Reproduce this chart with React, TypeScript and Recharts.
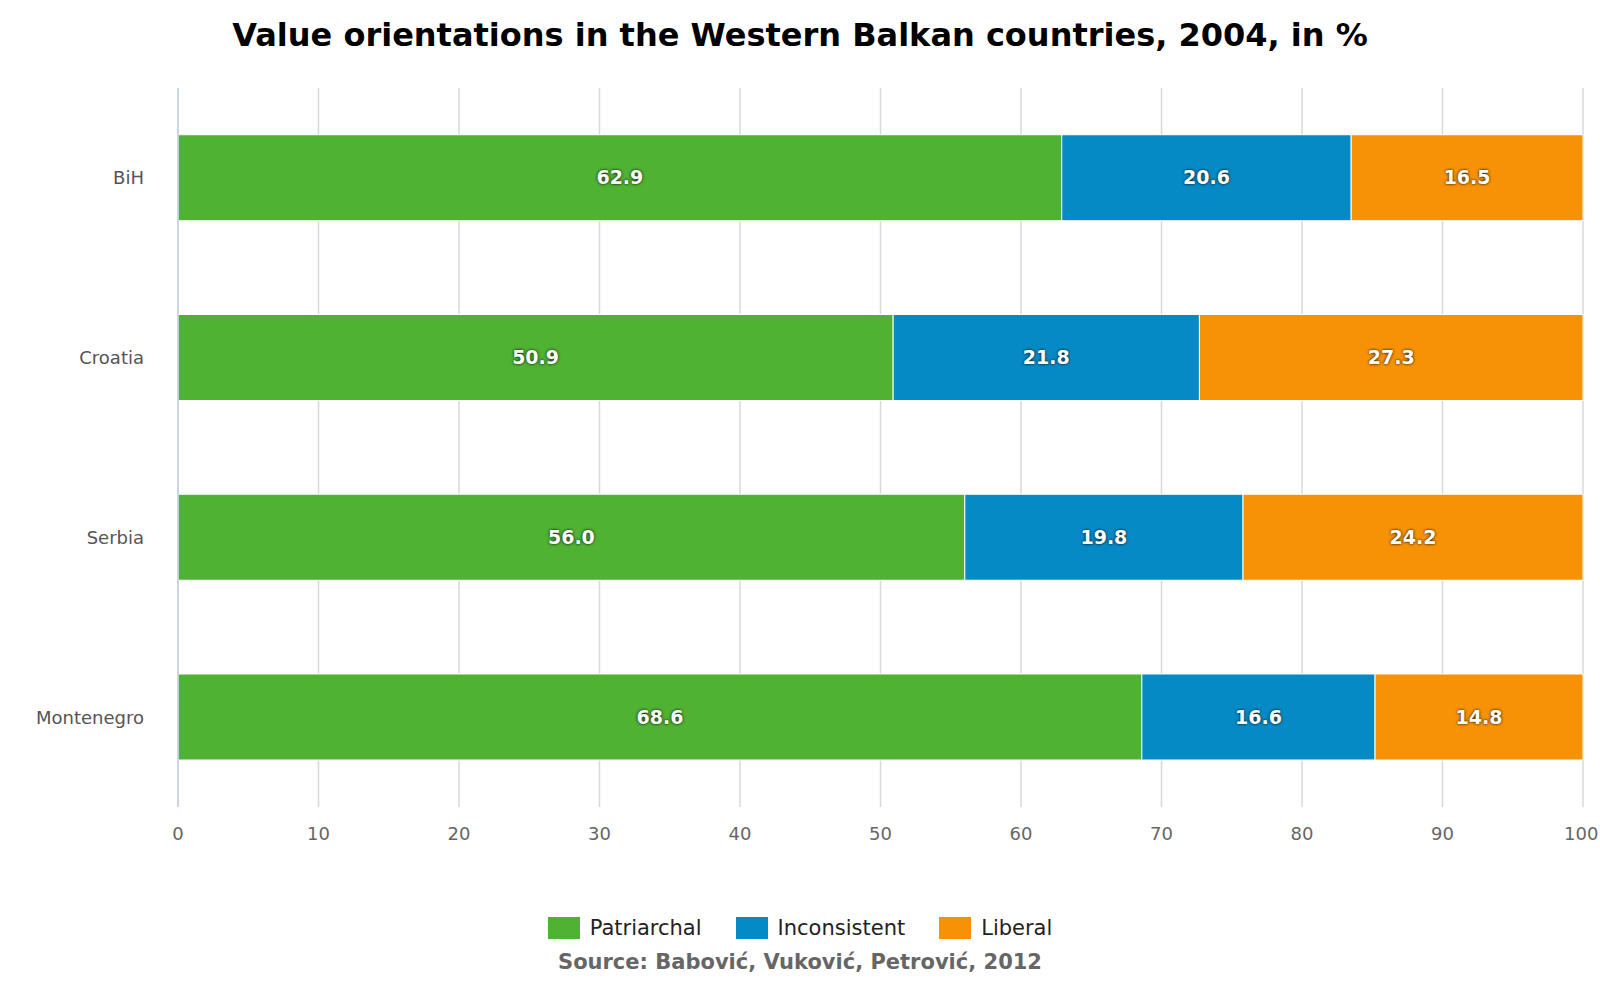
import React from 'react';
import { BarChart, Bar, XAxis, YAxis, CartesianGrid, LabelList } from 'recharts';

const categories = ['BiH', 'Croatia', 'Serbia', 'Montenegro'];
const patriarchal = [62.9, 50.9, 56.0, 68.6];
const inconsistent = [20.6, 21.8, 19.8, 16.6];
const liberal = [16.5, 27.3, 24.2, 14.8];
const xTicks = [0, 10, 20, 30, 40, 50, 60, 70, 80, 90, 100];

const data = categories.map((c, i) => ({ name: c, p: patriarchal[i], inc: inconsistent[i], lib: liberal[i] }));
const series = [
  { key: 'p', name: 'Patriarchal', color: '#4fb233' },
  { key: 'inc', name: 'Inconsistent', color: '#068ac6' },
  { key: 'lib', name: 'Liberal', color: '#f79207' },
];
const font = 'DejaVu Sans, sans-serif';

export default function App() {
  return (
    <div style={{ position: 'absolute', left: 0, top: 0, width: 1600, height: 1000, background: '#fff', fontFamily: font }}>
      <div style={{ position: 'absolute', top: 16, left: 0, width: 1600, textAlign: 'center', fontSize: 32, fontWeight: 'bold', color: '#000' }}>
        Value orientations in the Western Balkan countries, 2004, in %
      </div>
      <BarChart width={1600} height={1000} layout="vertical" data={data} barCategoryGap="26%"
        margin={{ top: 88, right: 17, bottom: 163, left: 0 }} style={{ position: 'absolute', left: 0, top: 0 }}>
        <CartesianGrid horizontal={false} stroke="#d8d8d8" strokeWidth={1.5} />
        <XAxis type="number" domain={[0, 100]} ticks={xTicks} axisLine={false} tickLine={false}
          tick={{ fill: '#666', fontSize: 18, fontFamily: font }} tickMargin={14} />
        <YAxis type="category" dataKey="name" width={178} axisLine={{ stroke: '#c0d0e0', strokeWidth: 1.5 }}
          tickLine={false} tick={{ fill: '#555', fontSize: 18, fontFamily: font }} tickMargin={28} />
        {series.map(s => (
          <Bar key={s.key} dataKey={s.key} name={s.name} stackId="a" fill={s.color} stroke="#fff" strokeWidth={1} isAnimationActive={false}>
            <LabelList dataKey={s.key} position="center" formatter={(v: number) => v.toFixed(1)}
              style={{ fill: '#fff', fontSize: 19, fontWeight: 'bold', fontFamily: font, textShadow: '0 0 3px #000' }} />
          </Bar>
        ))}
      </BarChart>
      <div style={{ position: 'absolute', top: 916, left: 0, width: 1600, display: 'flex', justifyContent: 'center', gap: 34, fontSize: 21, color: '#222' }}>
        {series.map(s => (
          <div key={s.key} style={{ display: 'flex', alignItems: 'center' }}>
            <span style={{ width: 32, height: 22, background: s.color, display: 'inline-block', marginRight: 10 }} />
            {s.name}
          </div>
        ))}
      </div>
      <div style={{ position: 'absolute', top: 950, left: 0, width: 1600, textAlign: 'center', fontSize: 21, fontWeight: 'bold', color: '#666' }}>
        Source: Babović, Vuković, Petrović, 2012
      </div>
    </div>
  );
}
